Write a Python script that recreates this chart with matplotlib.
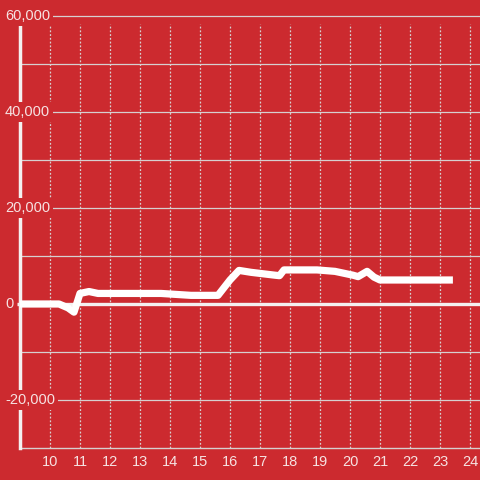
import matplotlib
matplotlib.use('Agg')
import matplotlib.pyplot as plt
import matplotlib.transforms as mtransforms

# data
hours = [9.0, 10.3, 10.6, 10.8, 11.0, 11.3, 11.6, 13.7, 14.2, 14.7, 15.6, 16.0,
         16.3, 16.7, 17.5, 17.65, 17.8, 18.9, 19.5, 20.1, 20.27, 20.57, 20.8,
         21.0, 23.43]
values = [0, 0, -800, -1700, 2200, 2600, 2200, 2200, 2000, 1800, 1800, 5000,
          7000, 6600, 6000, 5900, 7100, 7100, 6800, 6000, 5700, 6800, 5600,
          5000, 5000]

x_ticks = list(range(10, 25))
y_grid = [60000, 50000, 40000, 30000, 20000, 10000, -10000, -20000]
y_labels = [60000, 40000, 20000, 0, -20000]

bg = '#cc2a2f'
grid_col = '#d6d0d0'
text_col = '#f6e2e2'

plt.rcParams['font.family'] = ['Liberation Sans', 'DejaVu Sans']

fig = plt.figure(figsize=(4.8, 4.8), dpi=100, facecolor=bg)
ax = fig.add_axes([20 / 480, 32 / 480, 460 / 480, 424 / 480])
ax.set_facecolor(bg)
ax.set_xlim(9, 9 + 460 / 30)
ax.set_ylim(-30000, 58333)

for s in ['top', 'right']:
    ax.spines[s].set_visible(False)
ax.spines['left'].set_color('#f4f0f0')
ax.spines['left'].set_linewidth(2.5)
ax.spines['left'].set_zorder(3)
ax.spines['bottom'].set_color(grid_col)
ax.spines['bottom'].set_linewidth(1)

# horizontal grid
for v in y_grid:
    ax.axhline(v, color=grid_col, lw=0.9, zorder=1, clip_on=False)
# zero line
ax.plot([-3 / 30 + 9, 9 + 460 / 30], [0, 0], color='#f4f0f0', lw=2.4,
        zorder=2, clip_on=False, solid_capstyle='butt')

# vertical dotted grid
for t in x_ticks:
    ax.axvline(t, color=grid_col, lw=0.9, ls=(0, (1.5, 1.5)), zorder=1)

ax.plot(hours, values, color='white', lw=5.2, zorder=4,
        solid_joinstyle='round', solid_capstyle='butt')

ax.set_yticks([])
ax.set_xticks(x_ticks)
ax.set_xticklabels([str(t) for t in x_ticks], color=text_col, fontsize=10.5)
ax.tick_params(axis='x', length=0, pad=5)

# y labels drawn over the plot with background masks
trans = mtransforms.blended_transform_factory(fig.transFigure, ax.transData)
for v in y_labels:
    ax.text(5 / 480, v, f'{v:,}'.replace('-', '-'), transform=trans,
            ha='left', va='center', color=text_col, fontsize=10.5, zorder=5,
            clip_on=False,
            bbox=dict(boxstyle='square,pad=0.18', facecolor=bg, edgecolor='none'))

fig.savefig('out.png', dpi=100, facecolor=bg)
